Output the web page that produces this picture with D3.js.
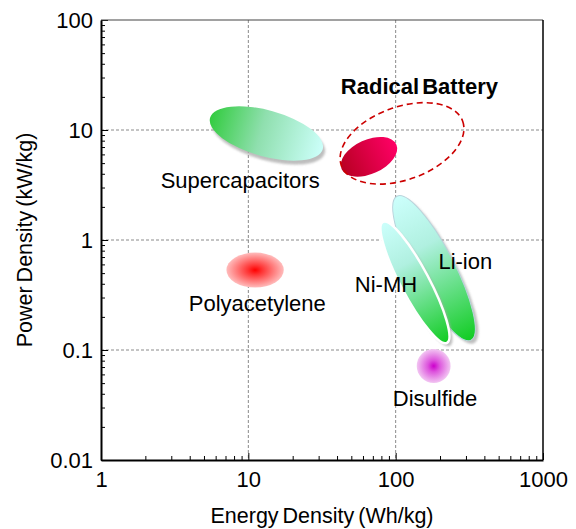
<!DOCTYPE html>
<html>
<head>
<meta charset="utf-8">
<script src="https://cdn.jsdelivr.net/npm/d3@7"></script>
<style>
  html, body { margin: 0; padding: 0; background: #fff; }
  svg { display: block; font-family: Arial, 'Liberation Sans', sans-serif; }
</style>
</head>
<body>
<div id="chart-wrap"></div>
<script>
// Region data: each blob is an ellipse whose long axis runs from (energyFrom, powerFrom) to (energyTo, powerTo)
const blobNames = ['Supercapacitors', 'Polyacetylene', 'Disulfide', 'Radical', 'Li-ion', 'Ni-MH'];
const energyFrom = [5.5, 7.1, 139, 43, 102, 82];
const energyTo = [32, 17.4, 236, 101, 325, 223];
const powerFrom = [12.9, 0.533, 0.0715, 4.4, 2.5, 1.46];
const powerTo = [6.7, 0.533, 0.0715, 7.4, 0.123, 0.116];
const halfWidthDecades = [0.21, 0.159, 0.155, 0.155, 0.185, 0.13];

// Dashed envelope round the radical battery
const envelopeEnergy = [42.8, 285];
const envelopePower = [4.76, 12.0];
const envelopeHalfWidth = 0.331;

// Labels
const labelText = ['Supercapacitors', 'Polyacetylene', 'Disulfide', 'Radical Battery', 'Li-ion', 'Ni-MH'];
const labelEnergy = [8.8, 11.5, 185, 145, 297, 86];
const labelPower = [2.94, 0.2275, 0.031, 21.1, 0.545, 0.339];

// Ticks
const xTicks = [1, 10, 100, 1000];
const xTickLabels = ['1', '10', '100', '1000'];
const yTicks = [0.01, 0.1, 1, 10, 100];
const yTickLabels = ['0.01', '0.1', '1', '10', '100'];

const width = 576;
const height = 529;
const margin = { top: 20, right: 33, bottom: 69, left: 101 };

const x = d3.scaleLog()
  .domain([1, 1000])
  .range([margin.left, width - margin.right]);

const y = d3.scaleLog()
  .domain([0.01, 100])
  .range([height - margin.bottom, margin.top]);

const decadePx = y(1) - y(10);

const minorTicks = (scale) => {
  const [lo, hi] = scale.domain();
  const out = [];
  for (let d = lo; d < hi; d *= 10) {
    for (let k = 2; k <= 9; k++) out.push(d * k);
  }
  return out;
};

const svg = d3.select('#chart-wrap').append('svg')
  .attr('width', width)
  .attr('height', height);

const defs = svg.append('defs');

const linear = (id, stops) => {
  const g = defs.append('linearGradient')
    .attr('id', id)
    .attr('x1', 0).attr('y1', 0).attr('x2', 1).attr('y2', 0);
  stops.forEach(s => g.append('stop').attr('offset', s[0]).attr('stop-color', s[1]));
};
const radial = (id, stops) => {
  const g = defs.append('radialGradient')
    .attr('id', id)
    .attr('cx', 0.5).attr('cy', 0.5).attr('r', 0.5);
  stops.forEach(s => g.append('stop').attr('offset', s[0]).attr('stop-color', s[1]));
};

linear('grad-super', [[0, '#33cc40'], [0.45, '#8fdfae'], [1, '#ccfffa']]);
linear('grad-cell', [[0, '#ccfffc'], [0.35, '#b0f0e0'], [1, '#11cc22']]);
linear('grad-radical', [[0, '#b80022'], [1, '#ff0066']]);
radial('grad-poly', [[0, '#ff0000'], [0.25, '#ff3333'], [1, '#ffbcbc']]);
radial('grad-disulfide', [[0, '#cc00cc'], [0.35, '#dd55dd'], [1, '#f2c6f2']]);

defs.append('filter')
  .attr('id', 'soft')
  .append('feGaussianBlur')
  .attr('stdDeviation', 1.2);

const blobStyle = {
  'Supercapacitors': { fill: 'url(#grad-super)', shadow: [2, 4] },
  'Polyacetylene': { fill: 'url(#grad-poly)' },
  'Disulfide': { fill: 'url(#grad-disulfide)' },
  'Radical': { fill: 'url(#grad-radical)' },
  'Li-ion': { fill: 'url(#grad-cell)', shadow: [3, 3], stroke: '#b8d4dc', strokeWidth: 1 },
  'Ni-MH': { fill: 'url(#grad-cell)', shadow: [3, 3], stroke: '#ffffff', strokeWidth: 2.5 }
};

// Grid
const grid = svg.append('g').attr('class', 'grid');
grid.selectAll('.gx')
  .data(xTicks.slice(1, -1))
  .enter()
  .append('line')
  .attr('x1', d => x(d)).attr('x2', d => x(d))
  .attr('y1', y(100)).attr('y2', y(0.01));
grid.selectAll('.gy')
  .data(yTicks.slice(1, -1))
  .enter()
  .append('line')
  .attr('y1', d => y(d)).attr('y2', d => y(d))
  .attr('x1', x(1)).attr('x2', x(1000));
grid.selectAll('line')
  .attr('stroke', '#8a8a8a')
  .attr('stroke-width', 1)
  .attr('stroke-dasharray', '3,2');

// Ellipse geometry from two data endpoints
const geom = (e0, p0, e1, p1, hw) => {
  const x0 = x(e0), y0 = y(p0), x1 = x(e1), y1 = y(p1);
  return {
    cx: (x0 + x1) / 2,
    cy: (y0 + y1) / 2,
    a: Math.hypot(x1 - x0, y1 - y0) / 2,
    b: hw * decadePx,
    angle: Math.atan2(y1 - y0, x1 - x0) * 180 / Math.PI
  };
};

const blobs = blobNames.map((name, i) => Object.assign(
  { name },
  geom(energyFrom[i], powerFrom[i], energyTo[i], powerTo[i], halfWidthDecades[i])
));

const blobG = svg.append('g').attr('class', 'blobs');

blobs.forEach(d => {
  const st = blobStyle[d.name];
  if (st.shadow) {
    blobG.append('ellipse')
      .attr('transform', `translate(${d.cx + st.shadow[0]},${d.cy + st.shadow[1]}) rotate(${d.angle})`)
      .attr('rx', d.a)
      .attr('ry', d.b)
      .attr('fill', '#a8a8a8')
      .attr('opacity', 0.75)
      .attr('filter', 'url(#soft)');
  }
  blobG.append('ellipse')
    .attr('transform', `translate(${d.cx},${d.cy}) rotate(${d.angle})`)
    .attr('rx', d.a)
    .attr('ry', d.b)
    .attr('fill', st.fill)
    .attr('stroke', st.stroke || 'none')
    .attr('stroke-width', st.strokeWidth || 0);
});

// Dashed envelope
const env = geom(envelopeEnergy[0], envelopePower[0], envelopeEnergy[1], envelopePower[1], envelopeHalfWidth);
svg.append('ellipse')
  .attr('transform', `translate(${env.cx},${env.cy}) rotate(${env.angle})`)
  .attr('rx', env.a)
  .attr('ry', env.b)
  .attr('fill', 'none')
  .attr('stroke', '#cc0000')
  .attr('stroke-width', 1.6)
  .attr('stroke-dasharray', '6,4');

// Labels
svg.append('g').selectAll('text')
  .data(labelText)
  .enter()
  .append('text')
  .attr('x', (d, i) => x(labelEnergy[i]))
  .attr('y', (d, i) => y(labelPower[i]))
  .attr('text-anchor', 'middle')
  .attr('font-size', 22)
  .attr('font-weight', d => d === 'Radical Battery' ? 'bold' : 'normal')
  .attr('word-spacing', d => d === 'Radical Battery' ? -3 : 0)
  .attr('fill', '#000')
  .text(d => d);

// Axes
const xAxis = svg.append('g')
  .attr('transform', `translate(0,${y(0.01)})`)
  .call(d3.axisBottom(x)
    .tickValues(xTicks)
    .tickFormat((d, i) => xTickLabels[i])
    .tickSizeInner(-7)
    .tickSizeOuter(0)
    .tickPadding(11));
svg.append('g')
  .attr('transform', `translate(0,${y(0.01)})`)
  .call(d3.axisBottom(x)
    .tickValues(minorTicks(x))
    .tickFormat('')
    .tickSize(-4))
  .call(g => g.select('.domain').remove());

const yAxis = svg.append('g')
  .attr('transform', `translate(${x(1)},0)`)
  .call(d3.axisLeft(y)
    .tickValues(yTicks)
    .tickFormat((d, i) => yTickLabels[i])
    .tickSizeInner(-7)
    .tickSizeOuter(0)
    .tickPadding(8));
svg.append('g')
  .attr('transform', `translate(${x(1)},0)`)
  .call(d3.axisLeft(y)
    .tickValues(minorTicks(y))
    .tickFormat('')
    .tickSize(-4))
  .call(g => g.select('.domain').remove());

svg.selectAll('.tick text')
  .attr('font-size', 22)
  .attr('font-family', 'Arial, Liberation Sans, sans-serif')
  .attr('fill', '#000');
svg.selectAll('.tick line').attr('stroke', '#000').attr('stroke-width', 1);
xAxis.select('.domain').attr('stroke', '#000').attr('stroke-width', 2);
yAxis.select('.domain').attr('stroke', '#000').attr('stroke-width', 2);

// Top and right frame
svg.append('line')
  .attr('x1', x(1)).attr('x2', x(1000))
  .attr('y1', y(100)).attr('y2', y(100))
  .attr('stroke', '#444').attr('stroke-width', 1.2);
svg.append('line')
  .attr('x1', x(1000)).attr('x2', x(1000))
  .attr('y1', y(100)).attr('y2', y(0.01))
  .attr('stroke', '#000').attr('stroke-width', 1.5);

// Axis titles
svg.append('text')
  .attr('x', (x(1) + x(1000)) / 2)
  .attr('y', 523)
  .attr('text-anchor', 'middle')
  .attr('font-size', 21.5)
  .attr('word-spacing', -2)
  .text('Energy Density (Wh/kg)');

svg.append('text')
  .attr('transform', `translate(32,${(y(100) + y(0.01)) / 2}) rotate(-90)`)
  .attr('text-anchor', 'middle')
  .attr('font-size', 21.5)
  .attr('word-spacing', -2)
  .text('Power Density (kW/kg)');
</script>
</body>
</html>
